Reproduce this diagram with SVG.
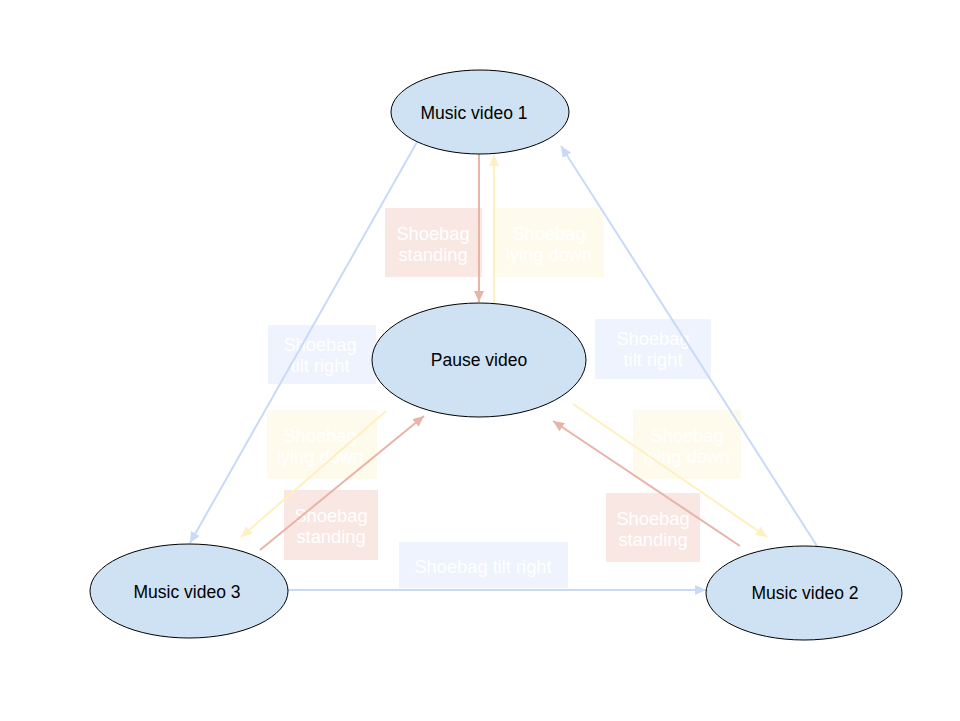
<svg xmlns="http://www.w3.org/2000/svg" width="960" height="721" viewBox="0 0 960 721">
<defs>
<style>
.node ellipse{fill:#cfe2f3;stroke:#000;stroke-width:1}
.node text{font-family:"Liberation Sans",Arial,sans-serif;font-size:17.5px;fill:#000;text-anchor:middle}
.lbl text{font-family:"Liberation Sans",Arial,sans-serif;font-size:18.3px;fill:#fff;text-anchor:middle}
.lb{fill:#eef3fd}
.ly{fill:#fffbec}
.lp{fill:#f9e7e4}
.cb{stroke:#c9daf8;stroke-width:2;fill:none;marker-end:url(#mb)}
.cr{stroke:#e8b4a7;stroke-width:2;fill:none;marker-end:url(#mr)}
.cy{stroke:#fff0c0;stroke-width:2;fill:none;marker-end:url(#my)}
</style>
<marker id="mb" markerUnits="userSpaceOnUse" markerWidth="12" markerHeight="10" refX="11" refY="5" orient="auto"><path d="M0,0 L11,5 L0,10 z" fill="#c9daf8"/></marker>
<marker id="mr" markerUnits="userSpaceOnUse" markerWidth="12" markerHeight="10" refX="11" refY="5" orient="auto"><path d="M0,0 L11,5 L0,10 z" fill="#e8b4a7"/></marker>
<marker id="my" markerUnits="userSpaceOnUse" markerWidth="12" markerHeight="10" refX="11" refY="5" orient="auto"><path d="M0,0 L11,5 L0,10 z" fill="#fff0c0"/></marker>
</defs>
<rect width="960" height="721" fill="#fff"/>
<g id="labels" class="lbl">
<g id="lbl-mv1-pause"><rect class="lp" x="385" y="208" width="97" height="69"/><text x="433" y="240">Shoebag</text><text x="433" y="261">standing</text></g>
<g id="lbl-pause-mv1"><rect class="ly" x="495" y="208" width="109" height="69"/><text x="549" y="240">Shoebag</text><text x="549" y="261">lying down</text></g>
<g id="lbl-mv1-mv3"><rect class="lb" x="268" y="325" width="108" height="59"/><text x="320" y="351">Shoebag</text><text x="320" y="372">tilt right</text></g>
<g id="lbl-mv2-mv1"><rect class="lb" x="595" y="319" width="116" height="60"/><text x="653" y="345">Shoebag</text><text x="653" y="366">tilt right</text></g>
<g id="lbl-pause-mv3"><rect class="ly" x="267" y="410" width="110" height="69"/><text x="320" y="442">Shoebag</text><text x="320" y="463">lying down</text></g>
<g id="lbl-pause-mv2"><rect class="ly" x="633" y="410" width="108" height="69"/><text x="687" y="442">Shoebag</text><text x="687" y="463">lying down</text></g>
<g id="lbl-mv3-pause"><rect class="lp" x="284" y="490" width="94" height="70"/><text x="331" y="522">Shoebag</text><text x="331" y="543">standing</text></g>
<g id="lbl-mv2-pause"><rect class="lp" x="606" y="493" width="94" height="69"/><text x="653" y="525">Shoebag</text><text x="653" y="546">standing</text></g>
<g id="lbl-mv3-mv2"><rect class="lb" x="399" y="542" width="169" height="46"/><text x="483" y="573">Shoebag tilt right</text></g>
</g>
<g id="connectors">
<line class="cb" x1="417" y1="142" x2="190" y2="543"/>
<line class="cb" x1="817" y1="546" x2="561" y2="146"/>
<line class="cb" x1="288" y1="590" x2="706" y2="590"/>
<line class="cr" x1="479" y1="154" x2="479" y2="302"/>
<line class="cy" x1="494" y1="303" x2="494" y2="155"/>
<line class="cy" x1="386" y1="411" x2="241" y2="537"/>
<line class="cr" x1="260" y1="550" x2="424" y2="416"/>
<line class="cy" x1="573" y1="404" x2="767" y2="537"/>
<line class="cr" x1="740" y1="546" x2="553" y2="421"/>
</g>
<g id="mv1" class="node"><ellipse cx="480" cy="112" rx="89" ry="42"/><text x="474" y="119">Music video 1</text></g>
<g id="pause" class="node"><ellipse cx="479" cy="360" rx="107" ry="57"/><text x="479" y="366">Pause video</text></g>
<g id="mv3" class="node"><ellipse cx="189" cy="591" rx="99" ry="47"/><text x="187" y="598">Music video 3</text></g>
<g id="mv2" class="node"><ellipse cx="804" cy="593" rx="98" ry="47"/><text x="805" y="599">Music video 2</text></g>
</svg>
